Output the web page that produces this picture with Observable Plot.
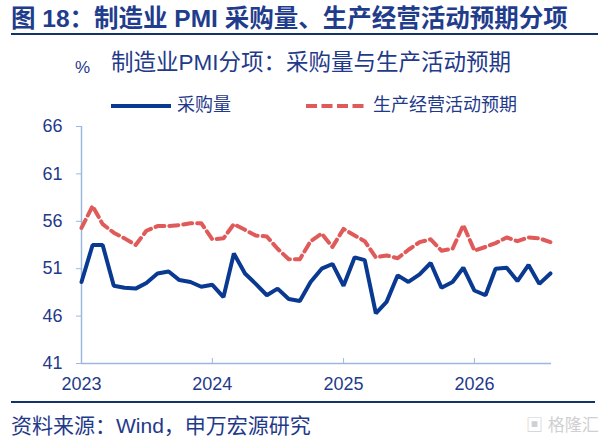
<!DOCTYPE html>
<html><head><meta charset="utf-8">
<script src="https://cdn.jsdelivr.net/npm/d3@7"></script>
<script src="https://cdn.jsdelivr.net/npm/@observablehq/plot@0.6"></script>
<style>
html,body{margin:0;padding:0;background:#fff;}
#wrap{position:relative;width:600px;height:440px;overflow:hidden;font-family:"Liberation Sans",Arial,"Noto Sans CJK SC",sans-serif;color:#1f3a8a;}
.abs{position:absolute;white-space:nowrap;}
#title{left:11px;top:4px;font-size:24.5px;font-weight:bold;color:#1f3d8c;line-height:30px;}
#rule1{left:11px;top:33px;width:587px;height:2px;background:#15336b;}
#pct{left:75px;top:57px;font-size:17px;line-height:22px;}
#sub{left:111px;top:49px;font-size:22.5px;line-height:28px;}
.leg{font-size:18px;line-height:22px;top:94px;}
#plot{left:0;top:110px;}
#rule2{left:11px;top:401px;width:584px;height:2px;background:#15336b;}
#cap{left:11px;top:413px;font-size:21px;line-height:26px;}
#wm{left:526px;top:416px;font-size:17px;line-height:20px;color:#d0d0d0;}
</style></head>
<body>
<div id="wrap">
  <div class="abs" id="title">图 18：制造业 PMI 采购量、生产经营活动预期分项</div>
  <div class="abs" id="rule1"></div>
  <div class="abs" id="pct">%</div>
  <div class="abs" id="sub">制造业PMI分项：采购量与生产活动预期</div>
  <svg class="abs" style="left:0;top:96px" width="600" height="20">
    <line x1="111" x2="171" y1="10" y2="10" stroke="#0a3992" stroke-width="4"/>
    <line x1="306" x2="364" y1="10" y2="10" stroke="#e05a5a" stroke-width="4" stroke-dasharray="11,4.5"/>
  </svg>
  <div class="abs leg" style="left:177px">采购量</div>
  <div class="abs leg" style="left:373px">生产经营活动预期</div>
  <div class="abs" id="plot"></div>
  <div class="abs" id="rule2"></div>
  <div class="abs" id="cap">资料来源：Wind，申万宏源研究</div>
  <div class="abs" id="wm">▣ 格隆汇</div>
</div>
<script>
// Monthly data, 2023-01 .. 2026-08
const purchase = [49.6,53.5,53.5,49.2,49.0,48.9,49.5,50.5,50.7,49.8,49.6,49.1,
  49.3,48.0,52.6,50.5,49.4,48.2,48.9,47.8,47.6,49.6,51.0,51.5,
  49.2,52.2,51.9,46.3,47.5,50.3,49.6,50.4,51.6,49.0,49.6,51.1,
  48.7,48.2,51.0,51.1,49.7,51.4,49.4,50.5];
const expectation = [55.3,57.6,55.7,54.8,54.2,53.5,55.0,55.5,55.5,55.6,55.8,55.8,
  54.1,54.2,55.7,55.1,54.5,54.4,53.1,52.0,52.0,53.9,54.7,53.3,
  55.2,54.5,53.9,52.2,52.4,52.1,53.0,53.8,54.1,52.9,53.1,55.6,
  52.9,53.3,53.7,54.3,53.9,54.3,54.2,53.8];
const yTicks = [41,46,51,56,61,66];
const xTickYears = [2023,2024,2025,2026];
const seriesNames = ["采购量","生产经营活动预期"];

const months = d3.utcMonth.range(new Date(Date.UTC(2023,0,1)), new Date(Date.UTC(2026,8,1)));
const dataA = months.map((d,i)=>({date:d, v:purchase[i]}));
const dataB = months.map((d,i)=>({date:d, v:expectation[i]}));
const xTicks = xTickYears.map(y=>new Date(Date.UTC(y,0,1)));

const axisCol = "#9db8e0";
const labCol = "#1f3a8a";

const chart = Plot.plot({
  width: 600,
  height: 290,
  marginLeft: 81,
  marginRight: 49,
  marginTop: 16,
  marginBottom: 37,
  style: {fontFamily: '"Liberation Sans",Arial,sans-serif', fontSize: "18px", background: "transparent"},
  x: {type: "utc", domain: [new Date(Date.UTC(2023,0,1)), new Date(Date.UTC(2026,7,4))]},
  y: {domain: [41,66]},
  marks: [
    Plot.axisY({ticks: yTicks, tickSize: 5, tickPadding: 14, stroke: axisCol, fill: labCol, label: null, fontSize: 18}),
    Plot.axisX({ticks: xTicks, tickSize: -5, tickPadding: 19, tickFormat: d=>String(d.getUTCFullYear()), stroke: axisCol, fill: labCol, label: null, fontSize: 18}),
    Plot.ruleY([41], {stroke: axisCol, strokeWidth: 1.5}),
    Plot.ruleX([new Date(Date.UTC(2023,0,1))], {stroke: axisCol, strokeWidth: 1.5}),
    Plot.line(dataB, {x: "date", y: "v", stroke: "#e05a5a", strokeWidth: 4, strokeDasharray: "9,5"}),
    Plot.line(dataA, {x: "date", y: "v", stroke: "#0a3992", strokeWidth: 4, strokeLinejoin: "miter"})
  ]
});
document.getElementById("plot").appendChild(chart);
</script>
</body></html>
